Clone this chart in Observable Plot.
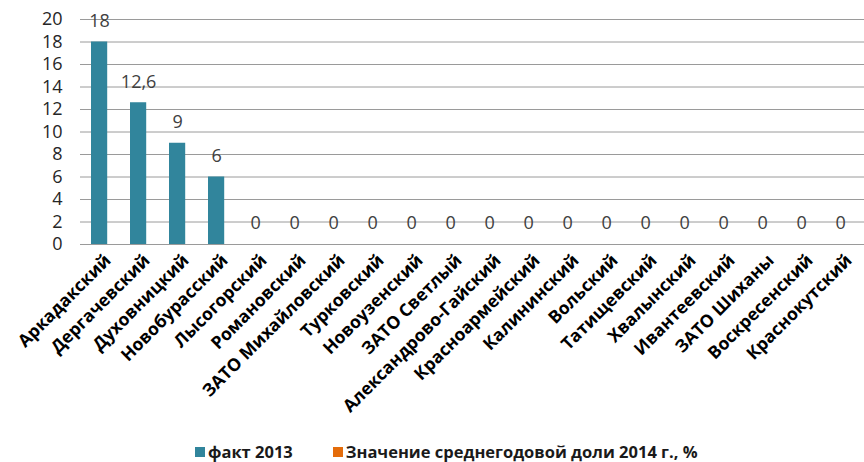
<!DOCTYPE html>
<html>
<head>
<meta charset="utf-8">
<script src="https://cdn.jsdelivr.net/npm/d3@7"></script>
<script src="https://cdn.jsdelivr.net/npm/@observablehq/plot@0.6"></script>
<style>
  html, body { margin: 0; padding: 0; background: #fff; overflow: hidden; }
  #wrap { width: 864px; height: 462px; overflow: hidden; position: relative; font-family: "Open Sans", sans-serif; }
  #chart svg { display: block; max-width: none !important; }
  #legend { position: absolute; left: 195px; top: 441px; height: 22px; line-height: 22px; font-size: 16.5px; font-weight: bold; color: #1a1a1a; white-space: nowrap; display: flex; align-items: center; }
  .sw { display: inline-block; width: 10px; height: 10px; margin-right: 3px; }
  .item { display: flex; align-items: center; }
</style>
</head>
<body>
<div id="wrap">
  <div id="chart"></div>
  <div id="legend"></div>
</div>
<script>
const categories = ["Аркадакский", "Дергачевский", "Духовницкий", "Новобурасский", "Лысогорский", "Романовский", "ЗАТО Михайловский", "Турковский", "Новоузенский", "ЗАТО Светлый", "Александрово-Гайский", "Красноармейский", "Калининский", "Вольский", "Татищевский", "Хвалынский", "Ивантеевский", "ЗАТО Шиханы", "Воскресенский", "Краснокутский"];
const fact2013 = [18, 12.6, 9, 6, 0, 0, 0, 0, 0, 0, 0, 0, 0, 0, 0, 0, 0, 0, 0, 0];
const share2014 = [0, 0, 0, 0, 0, 0, 0, 0, 0, 0, 0, 0, 0, 0, 0, 0, 0, 0, 0, 0];
const yTicks = [0, 2, 4, 6, 8, 10, 12, 14, 16, 18, 20];
const seriesNames = ["факт 2013", "Значение среднегодовой доли 2014 г., %"];
const seriesColors = ["#31859C", "#E46C0A"];

const rows = categories.map((c, i) => ({cat: c, fact: fact2013[i], share: share2014[i]}));
const fmt = v => String(v).replace(".", ",");

const chart = Plot.plot({
  width: 878,
  height: 440,
  marginLeft: 80,
  marginRight: 2,
  marginTop: 19,
  marginBottom: 196,
  style: {fontFamily: "'Open Sans', sans-serif", background: "#fff", maxWidth: "none"},
  x: {domain: categories, padding: 0, label: null},
  y: {domain: [0, 20], label: null},
  marks: [
    Plot.ruleY(yTicks, {stroke: "#9a9a9a", strokeWidth: 1}),
    Plot.barY(rows, {x: "cat", y: "fact", fill: seriesColors[0], insetLeft: 3, insetRight: 19.8}),
    Plot.barY(rows, {x: "cat", y: "share", fill: seriesColors[1], insetLeft: 20, insetRight: 2.8}),
    Plot.text(rows, {x: "cat", y: "fact", text: d => fmt(d.fact), dx: -8.4, dy: -21, fontSize: 18, fill: "#404040"}),
    Plot.axisY({ticks: yTicks, tickSize: 0, tickPadding: 18, fontSize: 18, fill: "#262626", tickFormat: d => d, label: null}),
    Plot.axisX({tickRotate: -45, tickSize: 0, tickPadding: 13, fontSize: 17.5, fontWeight: "bold", fill: "#000", label: null})
  ]
});
document.getElementById("chart").appendChild(chart);

const legend = document.getElementById("legend");
seriesNames.forEach((name, i) => {
  const it = document.createElement("span");
  it.className = "item";
  if (i > 0) it.style.marginLeft = "40px";
  const sw = document.createElement("span");
  sw.className = "sw";
  sw.style.background = seriesColors[i];
  it.appendChild(sw);
  const t = document.createElement("span");
  t.textContent = name;
  it.appendChild(t);
  legend.appendChild(it);
});
</script>
</body>
</html>
